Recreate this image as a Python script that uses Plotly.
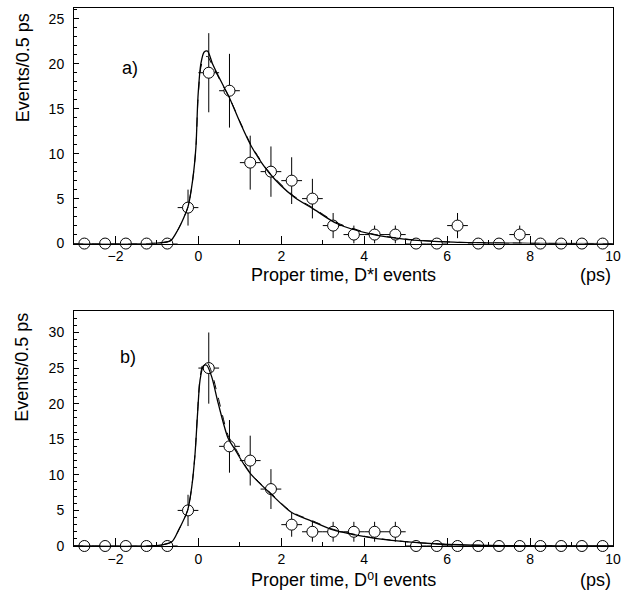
import plotly.graph_objects as go

# ---------------- data ----------------
bin_centers = [-2.75, -2.25, -1.75, -1.25, -0.75, -0.25, 0.25, 0.75, 1.25, 1.75,
               2.25, 2.75, 3.25, 3.75, 4.25, 4.75, 5.25, 5.75, 6.25, 6.75,
               7.25, 7.75, 8.25, 8.75, 9.25, 9.75]
bin_halfwidth = [0.25] * len(bin_centers)

# panel a) D*l events
a_counts = [0, 0, 0, 0, 0, 4, 19, 17, 9, 8, 7, 5, 2, 1, 1, 1, 0, 0, 2, 0, 0, 1, 0, 0, 0, 0]
a_err = [0, 0, 0, 0, 0, 2.0, 4.4, 4.1, 3.0, 2.8, 2.6, 2.2, 1.4, 1.0, 1.0, 1.0,
         0, 0, 1.4, 0, 0, 1.0, 0, 0, 0, 0]
a_fit_x = [-3.0, -1.0, -0.67, -0.51, -0.35, -0.25, -0.14, -0.06, -0.01, 0.06, 0.14, 0.22,
           0.34, 0.54, 0.74, 1.02, 1.28, 1.70, 2.30, 2.79, 3.35, 4.15, 4.96, 6.16, 8.0, 10.0]
a_fit_y = [0, 0.05, 0.33, 1.4, 2.9, 4.1, 7.0, 10.7, 16.3, 20.0, 21.3, 21.4,
           20.0, 18.1, 16.3, 13.3, 10.8, 7.9, 5.2, 3.8, 2.2, 1.07, 0.5, 0.15, 0.03, 0]
a_fit2_y = [0, 0.05, 0.33, 1.4, 2.9, 4.1, 7.0, 10.6, 16.0, 19.6, 20.7, 20.8,
            19.8, 18.0, 16.3, 13.4, 10.9, 8.0, 5.3, 3.9, 2.3, 1.12, 0.52, 0.16, 0.03, 0]

# panel b) D0l events
b_counts = [0, 0, 0, 0, 0, 5, 25, 14, 12, 8, 3, 2, 2, 2, 2, 2, 0, 0, 0, 0, 0, 0, 0, 0, 0, 0]
b_err = [0, 0, 0, 0, 0, 2.2, 5.0, 3.7, 3.5, 2.8, 1.7, 1.4, 1.4, 1.4, 1.4, 1.4,
         0, 0, 0, 0, 0, 0, 0, 0, 0, 0]
b_fit_x = [-3.0, -0.96, -0.64, -0.48, -0.26, -0.16, -0.08, -0.02, 0.04, 0.12, 0.20, 0.32,
           0.48, 0.72, 0.88, 1.0, 1.25, 1.77, 2.25, 2.73, 3.25, 3.78, 4.26, 4.98, 5.78, 7.0, 10.0]
b_fit_y = [0, 0.1, 0.6, 2.2, 5.0, 8.3, 13.0, 18.6, 23.3, 25.3, 25.4, 23.8,
           20.0, 15.1, 13.6, 12.4, 10.2, 7.2, 4.7, 3.5, 2.25, 1.55, 1.08, 0.6, 0.28, 0.08, 0]
b_fit2_y = [0, 0.1, 0.6, 2.2, 5.0, 8.3, 13.0, 18.8, 23.6, 25.7, 25.9, 24.4,
            20.8, 15.5, 13.9, 12.6, 10.3, 7.3, 4.8, 3.6, 2.35, 1.62, 1.12, 0.62, 0.29, 0.08, 0]

x_tickvals = [-2, 0, 2, 4, 6, 8, 10]
a_yticks = [0, 5, 10, 15, 20, 25]
b_yticks = [0, 5, 10, 15, 20, 25, 30]

# ---------------- figure ----------------
FONT = "Liberation Sans, Arial, Helvetica, DejaVu Sans, sans-serif"
W, H = 628, 593
ML, MR, MT, MB = 74, 10, 7, 47
PW = W - ML - MR
PH = H - MT - MB


def py2paper(py):
    return (H - MB - py) / PH


def px2paper(px):
    return (px - ML) / PW


fig = go.Figure()


def add_panel(counts, err, fx, fy, fy2, xa, ya):
    fig.add_trace(go.Scatter(
        x=bin_centers, y=counts, mode="markers", xaxis=xa, yaxis=ya,
        marker=dict(symbol="circle", size=11, color="white",
                    line=dict(color="black", width=1)),
        error_x=dict(type="data", array=bin_halfwidth, color="black", thickness=1, width=0),
        error_y=dict(type="data", array=err, color="black", thickness=1, width=0),
        cliponaxis=False, showlegend=False, hoverinfo="x+y"))
    fig.add_trace(go.Scatter(
        x=fx, y=fy2, mode="lines", xaxis=xa, yaxis=ya,
        line=dict(color="black", width=1, dash="dash", shape="spline", smoothing=0.8),
        showlegend=False))
    fig.add_trace(go.Scatter(
        x=fx, y=fy, mode="lines", xaxis=xa, yaxis=ya,
        line=dict(color="black", width=1.3, shape="spline", smoothing=0.8),
        showlegend=False))


add_panel(a_counts, a_err, a_fit_x, a_fit_y, a_fit2_y, "x", "y")
add_panel(b_counts, b_err, b_fit_x, b_fit_y, b_fit2_y, "x2", "y2")

top_dom = [py2paper(243), 1.0]
bot_dom = [0.0, py2paper(310.7)]

xcommon = dict(range=[-3, 10], tickvals=x_tickvals, ticks="inside", ticklen=8,
               tickwidth=1, tickcolor="black", showline=True, linecolor="black",
               linewidth=1, mirror=True, showgrid=False, zeroline=False,
               ticklabelstandoff=0,
               tickfont=dict(family=FONT, size=14, color="black"),
               minor=dict(dtick=1, ticks="inside", ticklen=4, tickcolor="black"))
ycommon = dict(ticks="inside", ticklen=5, tickwidth=1, tickcolor="black",
               showline=True, linecolor="black", linewidth=1, mirror=True,
               showgrid=False, zeroline=False, ticklabelstandoff=6,
               tickfont=dict(family=FONT, size=14, color="black"),
               minor=dict(dtick=1, ticks="inside", ticklen=3, tickcolor="black"))

fig.update_layout(
    width=W, height=H,
    margin=dict(l=ML, r=MR, t=MT, b=MB),
    paper_bgcolor="white", plot_bgcolor="white",
    font=dict(family=FONT, color="black"),
    xaxis=dict(domain=[0, 1], anchor="y", **xcommon),
    yaxis=dict(domain=top_dom, anchor="x", range=[0, 26.2], tickvals=a_yticks, **ycommon),
    xaxis2=dict(domain=[0, 1], anchor="y2", **xcommon),
    yaxis2=dict(domain=bot_dom, anchor="x2", range=[0, 33], tickvals=b_yticks, **ycommon),
)

ann_font = dict(family=FONT, size=18, color="black")
annotations = [
    dict(text="Proper time, D*l events", x=px2paper(346), y=py2paper(274)),
    dict(text="(ps)", x=px2paper(600), y=py2paper(274)),
    dict(text="Proper time, D\u2070l events", x=px2paper(346), y=py2paper(580)),
    dict(text="(ps)", x=px2paper(600), y=py2paper(580)),
    dict(text="Events/0.5 ps", x=px2paper(22), y=py2paper(67), textangle=-90),
    dict(text="Events/0.5 ps", x=px2paper(22), y=py2paper(367), textangle=-90),
    dict(text="a)", x=px2paper(131), y=py2paper(67)),
    dict(text="b)", x=px2paper(129), y=py2paper(357)),
]
for a in annotations:
    a.update(xref="paper", yref="paper", showarrow=False, font=ann_font,
             xanchor="center", yanchor="middle")
fig.update_layout(annotations=annotations)

fig.write_html("out.html", config={"displayModeBar": False},
               post_script="document.body.style.margin='0';document.body.style.padding='0';")
